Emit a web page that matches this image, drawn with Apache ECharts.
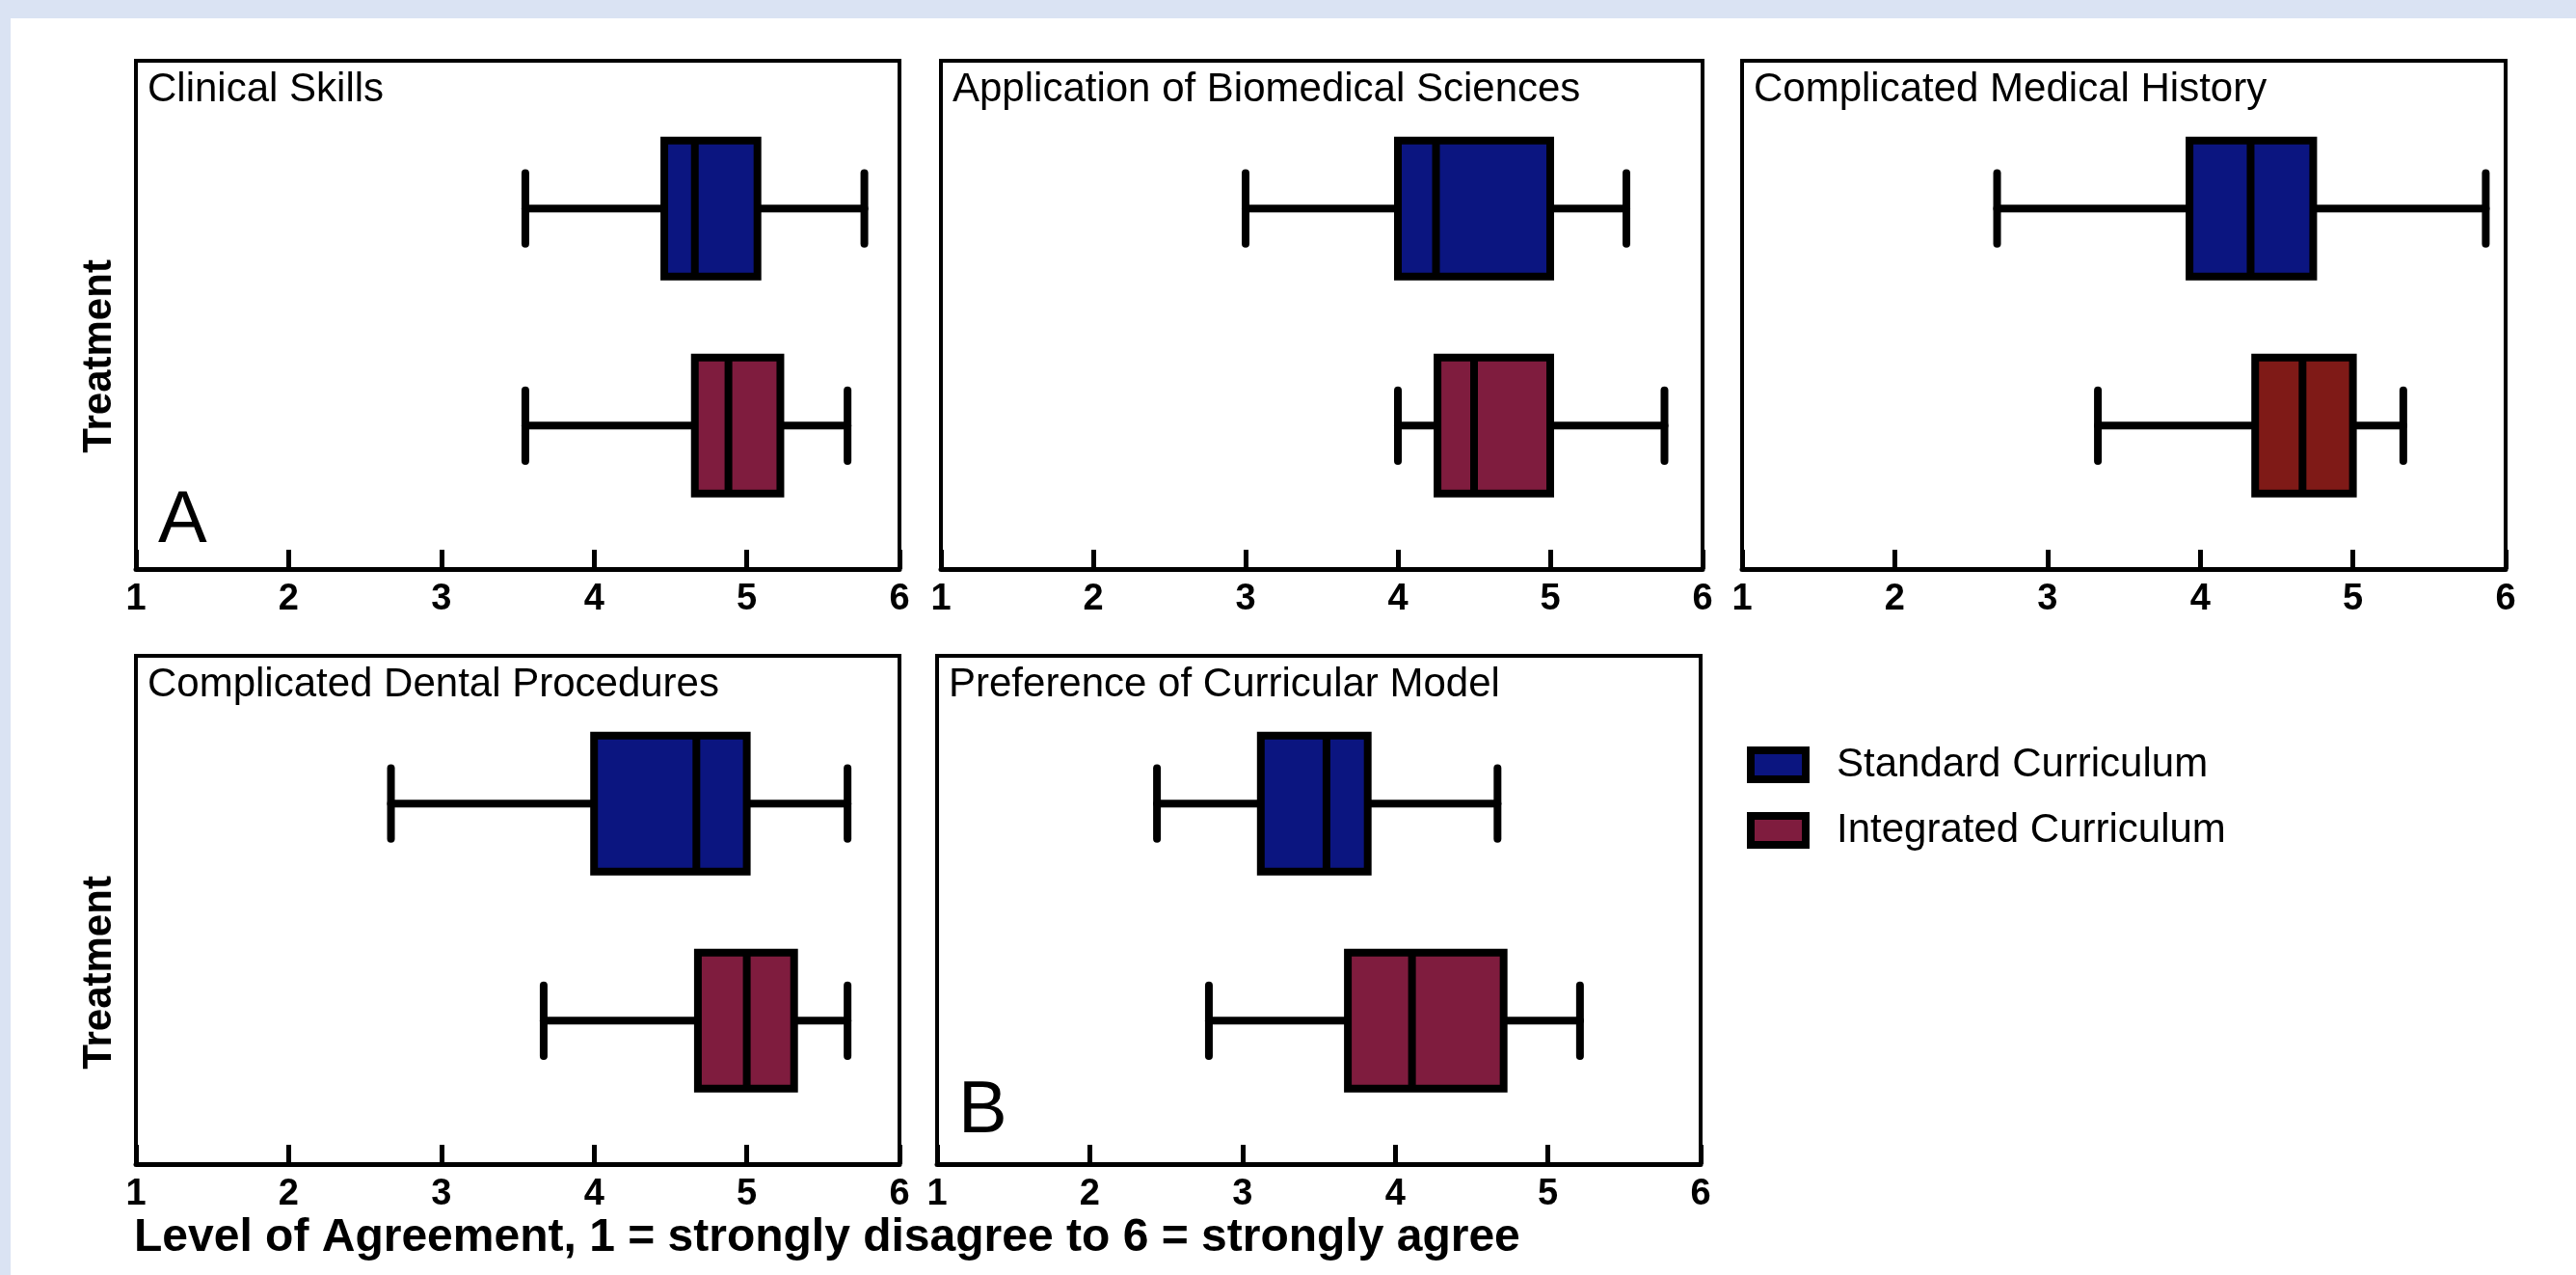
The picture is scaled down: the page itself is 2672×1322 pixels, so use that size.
<!DOCTYPE html>
<html>
<head>
<meta charset="utf-8">
<script src="https://cdn.jsdelivr.net/npm/echarts@6/dist/echarts.min.js"></script>
<style>
html,body{margin:0;padding:0;background:#dae3f3;width:2672px;height:1322px;overflow:hidden}
#card{position:absolute;left:11px;top:19px;right:0;bottom:0;background:#ffffff}
#chart{position:absolute;left:0;top:0;width:2672px;height:1322px}
</style>
</head>
<body>
<div id="card"></div>
<div id="chart"></div>
<script>
// ---------------- data ----------------
const panelTitles = [
  'Clinical Skills',
  'Application of Biomedical Sciences',
  'Complicated Medical History',
  'Complicated Dental Procedures',
  'Preference of Curricular Model'
];
const groups = ['Standard Curriculum', 'Integrated Curriculum'];
// [min, q1, median, q3, max] per panel
const standardStats = [
  [3.55, 4.46, 4.66, 5.07, 5.77],
  [3.00, 4.00, 4.25, 5.00, 5.50],
  [2.67, 3.93, 4.33, 4.74, 5.87],
  [2.67, 4.00, 4.67, 5.00, 5.66],
  [2.44, 3.12, 3.55, 3.82, 4.67]
];
const integratedStats = [
  [3.55, 4.66, 4.88, 5.22, 5.66],
  [4.00, 4.26, 4.50, 5.00, 5.75],
  [3.33, 4.36, 4.67, 5.00, 5.33],
  [3.67, 4.68, 5.00, 5.31, 5.66],
  [2.78, 3.69, 4.11, 4.71, 5.21]
];
const xTickMin = 1, xTickMax = 6, xTickStep = 1;
const panelLetters = ['A', 'B'];
const yAxisLabel = 'Treatment';
const xAxisLabel = 'Level of Agreement, 1 = strongly disagree to 6 = strongly agree';

// ---------------- style / layout ----------------
const FONT = '"Liberation Sans", Arial, Helvetica, sans-serif';
const BLUE = '#0b1580';
const MAROON = '#7f1c3e';
const BRICK = '#7f1a17';
const integratedColors = [MAROON, MAROON, BRICK, MAROON, MAROON];
const LW = 8;
const grids = [
  {left: 141, top: 63, width: 792, height: 527},
  {left: 976, top: 63, width: 790, height: 527},
  {left: 1807, top: 63, width: 792, height: 527},
  {left: 141, top: 680, width: 792, height: 527},
  {left: 972, top: 680, width: 792, height: 527}
];

function renderBox(params, api) {
  const y = api.value(0);
  const lo = api.coord([api.value(1), y]);
  const q1 = api.coord([api.value(2), y]);
  const md = api.coord([api.value(3), y]);
  const q3 = api.coord([api.value(4), y]);
  const hi = api.coord([api.value(5), y]);
  const unit = api.size([0, 1])[1];
  const bh = unit * 0.313;
  const ch = unit * 0.163;
  const cy = lo[1];
  const color = api.visual('color');
  const ls = {stroke: '#000', lineWidth: LW, lineCap: 'round'};
  return {
    type: 'group',
    children: [
      {type: 'line', shape: {x1: lo[0], y1: cy, x2: q1[0], y2: cy}, style: ls},
      {type: 'line', shape: {x1: q3[0], y1: cy, x2: hi[0], y2: cy}, style: ls},
      {type: 'line', shape: {x1: lo[0], y1: cy - ch, x2: lo[0], y2: cy + ch}, style: ls},
      {type: 'line', shape: {x1: hi[0], y1: cy - ch, x2: hi[0], y2: cy + ch}, style: ls},
      {type: 'rect', shape: {x: q1[0], y: cy - bh, width: q3[0] - q1[0], height: 2 * bh},
        style: {fill: color, stroke: '#000', lineWidth: LW}},
      {type: 'line', shape: {x1: md[0], y1: cy - bh, x2: md[0], y2: cy + bh},
        style: {stroke: '#000', lineWidth: LW}}
    ]
  };
}

const xAxes = [], yAxes = [], series = [], titles = [];
grids.forEach((g, i) => {
  xAxes.push({
    gridIndex: i, type: 'value', min: xTickMin, max: xTickMax, interval: xTickStep,
    axisLine: {show: true, onZero: false, lineStyle: {color: '#000', width: 5}},
    axisTick: {show: true, inside: true, length: 20, lineStyle: {color: '#000', width: 5}},
    splitLine: {show: false},
    axisLabel: {show: true, showMinLabel: true, showMaxLabel: true, fontSize: 38, fontWeight: 'bold',
      color: '#000', fontFamily: FONT, margin: 13}
  });
  yAxes.push({gridIndex: i, type: 'value', min: -0.68, max: 1.66, inverse: true, show: false});
  series.push({
    name: groups[0], type: 'custom', xAxisIndex: i, yAxisIndex: i,
    itemStyle: {color: BLUE}, renderItem: renderBox,
    encode: {x: [1, 2, 3, 4, 5], y: 0},
    data: [[0].concat(standardStats[i])]
  });
  series.push({
    name: groups[1], type: 'custom', xAxisIndex: i, yAxisIndex: i,
    itemStyle: {color: integratedColors[i]}, renderItem: renderBox,
    encode: {x: [1, 2, 3, 4, 5], y: 0},
    data: [[1].concat(integratedStats[i])]
  });
  titles.push({
    text: panelTitles[i], left: g.left + 12, top: g.top + 9, padding: 0,
    textStyle: {fontSize: 42, fontWeight: 'normal', color: '#000', fontFamily: FONT, lineHeight: 42}
  });
});
titles.push({text: panelLetters[0], left: 164, top: 503, padding: 0,
  textStyle: {fontSize: 76, fontWeight: 'normal', color: '#000', fontFamily: FONT, lineHeight: 76}});
titles.push({text: panelLetters[1], left: 994, top: 1115, padding: 0,
  textStyle: {fontSize: 76, fontWeight: 'normal', color: '#000', fontFamily: FONT, lineHeight: 76}});
titles.push({text: xAxisLabel, left: 139, top: 1260, padding: 0,
  textStyle: {fontSize: 48, fontWeight: 'bold', color: '#000', fontFamily: FONT, lineHeight: 48}});

const chart = echarts.init(document.getElementById('chart'), null, {renderer: 'canvas'});
chart.setOption({
  backgroundColor: 'transparent',
  animation: false,
  title: titles,
  grid: grids.map(g => Object.assign({show: true, borderColor: '#000', borderWidth: 4,
    backgroundColor: '#fff', containLabel: false}, g)),
  xAxis: xAxes,
  yAxis: yAxes,
  legend: {
    orient: 'vertical', left: 1812, top: 772, padding: 0,
    itemWidth: 57, itemHeight: 30, itemGap: 26, icon: 'rect', selectedMode: false,
    textStyle: {fontSize: 42, color: '#000', fontFamily: FONT, lineHeight: 30, padding: [0, 0, 0, 27]},
    data: [
      {name: groups[0], itemStyle: {color: BLUE, borderColor: '#000', borderWidth: 8}},
      {name: groups[1], itemStyle: {color: MAROON, borderColor: '#000', borderWidth: 8}}
    ]
  },
  graphic: [
    {type: 'text', x: 103, y: (grids[0].top + grids[0].top + grids[0].height) / 2 + 43, rotation: Math.PI / 2,
      style: {text: yAxisLabel, fontSize: 42, fontWeight: 'bold', fontFamily: FONT, fill: '#000',
        align: 'center', verticalAlign: 'middle'}},
    {type: 'text', x: 103, y: (grids[3].top + grids[3].top + grids[3].height) / 2 + 65, rotation: Math.PI / 2,
      style: {text: yAxisLabel, fontSize: 42, fontWeight: 'bold', fontFamily: FONT, fill: '#000',
        align: 'center', verticalAlign: 'middle'}}
  ],
  series: series
});
</script>
</body>
</html>
